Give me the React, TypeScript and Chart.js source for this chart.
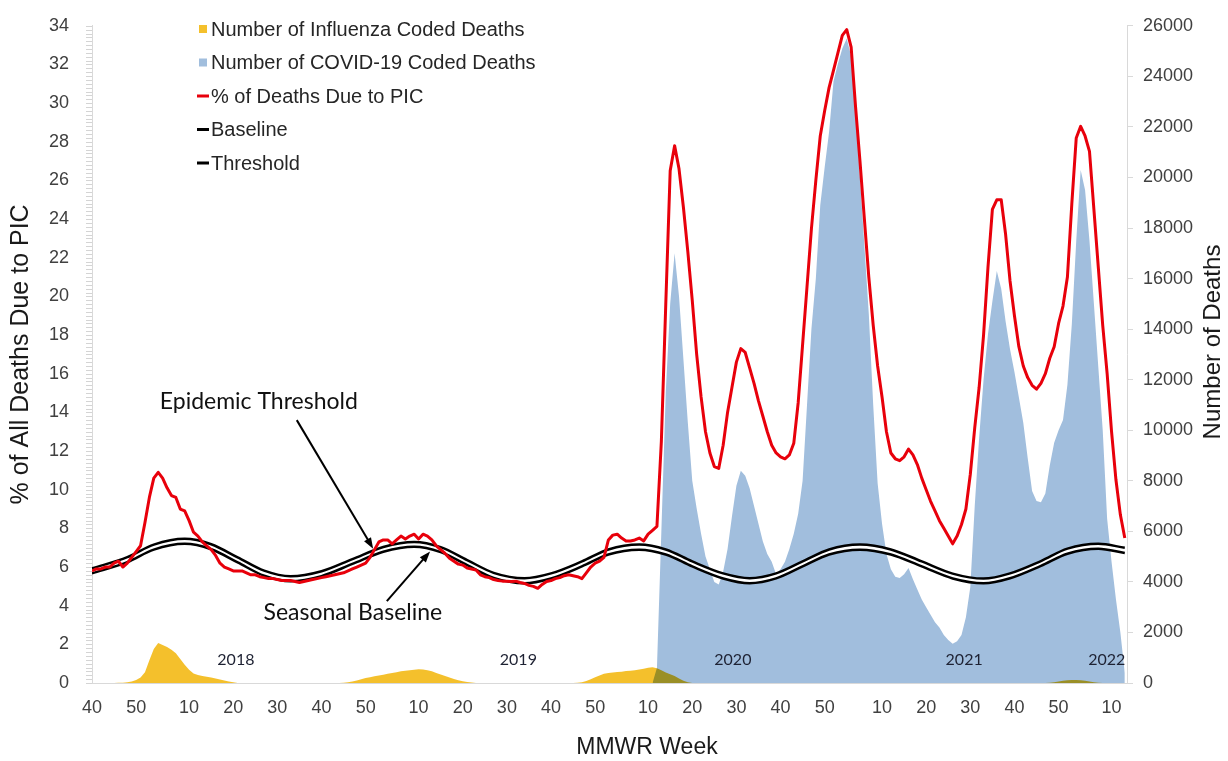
import React, { useEffect, useRef } from "react";
import { Chart, registerables } from "chart.js";

Chart.register(...registerables);

// MMWR week axis: seasons and their first / last weeks shown
const seasonYears = [2017, 2018, 2019, 2020, 2021, 2022];
const seasonFirstWeek = [40, 1, 1, 1, 1, 1];
const seasonLastWeek = [52, 52, 52, 53, 52, 13];
const tickEveryWeeks = 10;

// % of all deaths due to PIC (weekly)
const picPct2017 = [5.8, 5.9, 5.9, 6.0, 6.0, 6.2, 6.3, 6.0, 6.2, 6.5, 6.8, 7.1, 8.3];
const picPct2018 = [
  9.6, 10.6, 10.9, 10.6, 10.1, 9.7, 9.6, 9.0, 8.9, 8.4,
  7.8, 7.6, 7.3, 7.1, 6.9, 6.6, 6.2, 6.0, 5.9, 5.8,
  5.8, 5.8, 5.7, 5.6, 5.6, 5.5, 5.45, 5.4, 5.4, 5.35,
  5.3, 5.3, 5.3, 5.25, 5.2, 5.25, 5.3, 5.35, 5.4, 5.45,
  5.5, 5.55, 5.6, 5.65, 5.7, 5.8, 5.9, 6.0, 6.1, 6.2,
  6.5, 6.9,
];
const picPct2019 = [
  7.3, 7.4, 7.4, 7.2, 7.4, 7.6, 7.45, 7.6, 7.7, 7.45,
  7.7, 7.6, 7.4, 7.1, 6.9, 6.7, 6.45, 6.3, 6.15, 6.1,
  5.95, 5.9, 5.85, 5.6, 5.5, 5.45, 5.35, 5.3, 5.27, 5.27,
  5.25, 5.27, 5.2, 5.15, 5.05, 5.0, 4.9, 5.1, 5.25, 5.3,
  5.4, 5.45, 5.55, 5.6, 5.55, 5.5, 5.4, 5.7, 6.0, 6.2,
  6.3, 6.5,
];
const picPct2020 = [
  7.4, 7.65, 7.7, 7.5, 7.35, 7.35, 7.4, 7.5, 7.35, 7.7,
  7.9, 8.1, 12.5, 19.6, 26.5, 27.8, 26.6, 24.6, 22.3, 19.8,
  17.0, 14.8, 13.0, 11.9, 11.2, 11.1, 12.3, 14.0, 15.3, 16.6,
  17.3, 17.1, 16.3, 15.5, 14.6, 13.8, 13.0, 12.3, 11.9, 11.7,
  11.6, 11.8, 12.4, 14.5, 17.5, 20.5, 23.5, 26.0, 28.3, 29.6,
  30.8, 31.7, 32.6,
];
const picPct2021 = [
  33.5, 33.8, 32.9, 29.8, 27.0, 24.0, 21.0, 18.5, 16.4, 14.8,
  13.0, 11.9, 11.6, 11.5, 11.7, 12.1, 11.8, 11.3, 10.6, 10.0,
  9.4, 8.9, 8.4, 8.0, 7.6, 7.2, 7.6, 8.2, 9.0, 10.8,
  13.2, 15.3, 18.0, 21.5, 24.5, 25.0, 25.0, 23.2, 20.8, 19.0,
  17.4, 16.4, 15.8, 15.4, 15.2, 15.5, 16.0, 16.8, 17.4, 18.6,
  19.5, 21.0,
];
const picPct2022 = [24.8, 28.2, 28.8, 28.3, 27.5, 24.5, 21.5, 18.5, 16.0, 13.0, 10.5, 8.7, 7.5];

// Number of influenza coded deaths (weekly)
const fluDeaths2017 = [0, 0, 0, 0, 0, 0, 5, 10, 30, 60, 120, 220, 430];
const fluDeaths2018 = [
  900, 1350, 1580, 1500, 1420, 1320, 1180, 950, 720, 520,
  380, 320, 280, 250, 220, 180, 140, 100, 60, 25,
  0, 0, 0, 0, 0, 0, 0, 0, 0, 0,
  0, 0, 0, 0, 0, 0, 0, 0, 0, 0,
  0, 0, 0, 0, 10, 30, 60, 100, 150, 200,
  230, 270,
];
const fluDeaths2019 = [
  300, 330, 370, 400, 430, 460, 480, 500, 520, 540,
  530, 500, 460, 400, 340, 280, 220, 160, 110, 70,
  40, 20, 0, 0, 0, 0, 0, 0, 0, 0,
  0, 0, 0, 0, 0, 0, 0, 0, 0, 0,
  0, 0, 0, 0, 0, 10, 30, 80, 150, 230,
  300, 370,
];
const fluDeaths2020 = [
  400, 420, 440, 450, 470, 480, 500, 530, 560, 600,
  620, 580, 500, 420, 350, 280, 180, 90, 30, 0,
  0, 0, 0, 0, 0, 0, 0, 0, 0, 0,
  0, 0, 0, 0, 0, 0, 0, 0, 0, 0,
  0, 0, 0, 0, 0, 0, 0, 0, 0, 0,
  0, 0, 0,
];
const fluDeaths2021 = [
  0, 0, 0, 0, 0, 0, 0, 0, 0, 0,
  0, 0, 0, 0, 0, 0, 0, 0, 0, 0,
  0, 0, 0, 0, 0, 0, 0, 0, 0, 0,
  0, 0, 0, 0, 0, 0, 0, 0, 0, 0,
  0, 0, 0, 0, 0, 0, 0, 10, 30, 60,
  90, 110,
];
const fluDeaths2022 = [120, 120, 110, 90, 60, 30, 10, 0, 0, 0, 0, 0, 0];

// Number of COVID-19 coded deaths (weekly), series starts 2020 week 11
const covidStartYear = 2020;
const covidStartWeek = 11;
const covidDeaths2020 = [
  0, 600, 6000, 11500, 15000, 17000, 15300, 12800, 10300, 8000,
  6900, 5900, 5000, 4500, 4000, 3900, 4400, 5300, 6600, 7800,
  8400, 8200, 7700, 7000, 6300, 5600, 5100, 4800, 4300, 4500,
  4800, 5300, 5900, 6700, 8000, 11000, 14000, 16000, 18900, 20400,
  21800, 23800, 24500,
];
const covidDeaths2021 = [
  25100, 25500, 24800, 22800, 20000, 17300, 14600, 11000, 7900, 6300,
  5100, 4500, 4200, 4150, 4300, 4550, 4100, 3700, 3300, 3000,
  2700, 2400, 2200, 1900, 1700, 1550, 1650, 1900, 2600, 3800,
  7000, 9700, 12000, 13800, 15100, 16300, 15600, 14300, 13200, 12300,
  11300, 10300, 8900, 7600, 7200, 7150, 7500, 8600, 9500, 10000,
  10400, 11800,
];
const covidDeaths2022 = [14200, 17500, 20300, 19500, 17500, 15000, 12500, 10000, 6500, 4800, 3300, 2000, 400];

// Seasonal baseline and epidemic threshold (read at these week positions)
const bandWeekIndex = [
  0, 8, 14, 21, 27, 33, 39, 45, 52, 59,
  66, 73, 79, 85, 91, 98, 104, 111, 117, 124,
  130, 136, 143, 149, 155, 161, 167, 174, 181, 188,
  195, 202, 208, 215, 221, 228, 234,
];
const baselinePct = [
  5.67, 6.25, 6.9, 7.2, 6.92, 6.24, 5.55, 5.27, 5.53, 6.16,
  6.79, 7.05, 6.77, 6.1, 5.44, 5.16, 5.41, 6.03, 6.65, 6.9,
  6.65, 6.03, 5.41, 5.16, 5.41, 6.03, 6.65, 6.9, 6.65, 6.03,
  5.41, 5.16, 5.42, 6.06, 6.69, 6.95, 6.72,
];
const thresholdPct = [
  5.93, 6.51, 7.16, 7.46, 7.18, 6.5, 5.81, 5.52, 5.78, 6.41,
  7.04, 7.3, 7.03, 6.36, 5.7, 5.42, 5.67, 6.29, 6.91, 7.16,
  6.91, 6.29, 5.67, 5.42, 5.67, 6.29, 6.91, 7.16, 6.91, 6.29,
  5.66, 5.4, 5.67, 6.31, 6.95, 7.2, 7.0,
];

const yearLabels = ["2018", "2019", "2020", "2021", "2022"];
const annotationTexts = ["Epidemic Threshold", "Seasonal Baseline"];

const SANS = '"Liberation Sans", Arial, sans-serif';
const HUMAN = 'Lato, "Open Sans", sans-serif';

export default function App() {
  const ref = useRef<HTMLCanvasElement>(null);

  useEffect(() => {
    const canvas = ref.current;
    if (!canvas) return;

    const weekNums: number[] = [];
    const seasonStartIdx: number[] = [];
    seasonYears.forEach((_, k) => {
      seasonStartIdx.push(weekNums.length);
      for (let w = seasonFirstWeek[k]; w <= seasonLastWeek[k]; w++) weekNums.push(w);
    });
    const idxOf = (year: number, week: number) =>
      seasonStartIdx[seasonYears.indexOf(year)] + week - seasonFirstWeek[seasonYears.indexOf(year)];
    const tickIdx = weekNums.map((w, i) => (w % tickEveryWeeks === 0 ? i : -1)).filter((i) => i >= 0);

    const pic = [...picPct2017, ...picPct2018, ...picPct2019, ...picPct2020, ...picPct2021, ...picPct2022];
    const flu = [...fluDeaths2017, ...fluDeaths2018, ...fluDeaths2019, ...fluDeaths2020, ...fluDeaths2021, ...fluDeaths2022];
    const covid = [...covidDeaths2020, ...covidDeaths2021, ...covidDeaths2022];
    const covidStart = idxOf(covidStartYear, covidStartWeek);

    const picPts = pic.map((v, i) => ({ x: i, y: v }));
    const fluPts = flu.map((v, i) => ({ x: i, y: v }));
    const covidPts = covid.map((v, k) => ({ x: covidStart + k, y: v }));
    const basePts = bandWeekIndex.map((x, k) => ({ x, y: baselinePct[k] }));
    const thrPts = bandWeekIndex.map((x, k) => ({ x, y: thresholdPct[k] }));
    const lastIdx = weekNums.length - 1;

    const drawArrow = (ctx: CanvasRenderingContext2D, x1: number, y1: number, x2: number, y2: number) => {
      const ang = Math.atan2(y2 - y1, x2 - x1);
      const head = 11;
      ctx.save();
      ctx.strokeStyle = "#000";
      ctx.fillStyle = "#000";
      ctx.lineWidth = 2;
      ctx.beginPath();
      ctx.moveTo(x1, y1);
      ctx.lineTo(x2 - Math.cos(ang) * head * 0.8, y2 - Math.sin(ang) * head * 0.8);
      ctx.stroke();
      ctx.beginPath();
      ctx.moveTo(x2, y2);
      ctx.lineTo(x2 - head * Math.cos(ang) + 4 * Math.sin(ang), y2 - head * Math.sin(ang) - 4 * Math.cos(ang));
      ctx.lineTo(x2 - head * Math.cos(ang) - 4 * Math.sin(ang), y2 - head * Math.sin(ang) + 4 * Math.cos(ang));
      ctx.closePath();
      ctx.fill();
      ctx.restore();
    };

    const decor = {
      id: "decor",
      beforeDraw(chart: any) {
        const { ctx, width, height } = chart;
        ctx.save();
        ctx.fillStyle = "#ffffff";
        ctx.fillRect(0, 0, width, height);
        ctx.restore();
      },
      afterDatasetDraw(chart: any, args: any) {
        // influenza area is blended onto the COVID area
        if (args.index === 1) chart.ctx.globalCompositeOperation = "multiply";
        if (args.index === 0) chart.ctx.globalCompositeOperation = "source-over";
      },
      afterDraw(chart: any) {
        const { ctx, chartArea, scales } = chart;
        const xs = scales.x;
        const ys = scales.y;
        // minor ruler ticks on the left axis
        ctx.save();
        ctx.strokeStyle = "#d4d4d4";
        ctx.lineWidth = 1;
        for (let v = 0; v <= 34.001; v += 0.2) {
          const py = Math.round(ys.getPixelForValue(v)) + 0.5;
          ctx.beginPath();
          ctx.moveTo(chartArea.left - 6, py);
          ctx.lineTo(chartArea.left, py);
          ctx.stroke();
        }
        ctx.restore();

        // legend (vertical, inside plot)
        ctx.save();
        ctx.font = `20px ${SANS}`;
        ctx.textBaseline = "middle";
        ctx.textAlign = "left";
        chart.data.datasets.forEach((ds: any, k: number) => {
          const cy = 29 + k * 33.5;
          const mx = 203;
          if (ds.fill === "origin") {
            ctx.fillStyle = ds.backgroundColor;
            ctx.fillRect(mx - 4, cy - 4, 8, 8);
          } else {
            ctx.fillStyle = ds.borderColor;
            ctx.fillRect(mx - 6, cy - 1.5, 12, 3);
          }
          ctx.fillStyle = "#262626";
          ctx.fillText(ds.label, 211, cy + 1);
        });
        ctx.restore();

        // right axis title (reads bottom to top)
        ctx.save();
        ctx.font = `24px ${SANS}`;
        ctx.fillStyle = "#1a1a1a";
        ctx.textAlign = "center";
        ctx.textBaseline = "middle";
        ctx.translate(1213, 342);
        ctx.rotate(-Math.PI / 2);
        ctx.fillText("Number of Deaths", 0, 0);
        ctx.restore();

        // x axis title
        ctx.save();
        ctx.font = `23px ${SANS}`;
        ctx.fillStyle = "#1a1a1a";
        ctx.textAlign = "center";
        ctx.textBaseline = "middle";
        ctx.fillText("MMWR Week", 647, 748);
        ctx.restore();

        // year labels
        ctx.save();
        ctx.font = `16px ${HUMAN}`;
        ctx.fillStyle = "#1e2233";
        ctx.textAlign = "center";
        ctx.textBaseline = "middle";
        const yearPos = [idxOf(2018, 21) - 0.4, idxOf(2019, 33) - 0.4, idxOf(2020, 29) + 0.2, idxOf(2021, 28) + 0.6, idxOf(2022, 8) + 0.9];
        yearLabels.forEach((t, k) => {
          ctx.fillText(t, xs.getPixelForValue(yearPos[k]), ys.getPixelForValue(1.18));
        });
        ctx.restore();

        // annotations
        ctx.save();
        ctx.font = `23px ${HUMAN}`;
        ctx.fillStyle = "#111";
        ctx.textAlign = "center";
        ctx.textBaseline = "middle";
        ctx.fillText(annotationTexts[0], xs.getPixelForValue(37.8), ys.getPixelForValue(14.57));
        ctx.fillText(annotationTexts[1], xs.getPixelForValue(59.1), ys.getPixelForValue(3.63));
        ctx.restore();
        drawArrow(ctx, xs.getPixelForValue(46.4), ys.getPixelForValue(13.6), xs.getPixelForValue(63.7), ys.getPixelForValue(6.95));
        drawArrow(ctx, xs.getPixelForValue(66.8), ys.getPixelForValue(4.24), xs.getPixelForValue(76.6), ys.getPixelForValue(6.8));
      },
    };

    const chart = new Chart(canvas, {
      type: "line",
      data: {
        datasets: [
          {
            label: "Number of Influenza Coded Deaths",
            data: fluPts,
            yAxisID: "y2",
            fill: "origin",
            backgroundColor: "#f4c02c",
            borderWidth: 0,
            pointRadius: 0,
            order: 4,
          },
          {
            label: "Number of COVID-19 Coded Deaths",
            data: covidPts,
            yAxisID: "y2",
            fill: "origin",
            backgroundColor: "#a1bedd",
            borderWidth: 0,
            pointRadius: 0,
            order: 5,
          },
          {
            label: "% of Deaths Due to PIC",
            data: picPts,
            yAxisID: "y",
            fill: false,
            borderColor: "#e8000b",
            borderWidth: 3,
            pointRadius: 0,
            tension: 0,
            borderJoinStyle: "round",
            order: 1,
          },
          {
            label: "Baseline",
            data: basePts,
            yAxisID: "y",
            fill: false,
            borderColor: "#000000",
            borderWidth: 2.5,
            pointRadius: 0,
            cubicInterpolationMode: "monotone",
            order: 2,
          },
          {
            label: "Threshold",
            data: thrPts,
            yAxisID: "y",
            fill: { target: 3 },
            backgroundColor: "#ffffff",
            borderColor: "#000000",
            borderWidth: 2.5,
            pointRadius: 0,
            cubicInterpolationMode: "monotone",
            order: 3,
          },
        ] as any,
      },
      options: {
        responsive: false,
        devicePixelRatio: 1,
        animation: false,
        layout: { padding: { top: 19, left: 0, right: 0, bottom: 0 } },
        plugins: {
          legend: { display: false },
          tooltip: { enabled: false },
        },
        scales: {
          x: {
            type: "linear",
            min: 0,
            max: lastIdx + 0.5,
            afterBuildTicks: (s: any) => {
              s.ticks = tickIdx.map((v) => ({ value: v }));
            },
            afterFit: (s: any) => {
              s.height = 78;
            },
            grid: { display: false },
            border: { display: true, color: "#d9d9d9", width: 1 },
            ticks: {
              autoSkip: false,
              maxRotation: 0,
              padding: 6,
              color: "#404040",
              font: { family: SANS, size: 18 },
              callback: (v: any) => String(weekNums[Math.round(v)] ?? ""),
            },
            title: { display: false },
          },
          y: {
            type: "linear",
            position: "left",
            min: 0,
            max: 34,
            afterFit: (s: any) => {
              s.width = 92;
            },
            grid: { display: false },
            border: { display: true, color: "#d9d9d9", width: 1 },
            ticks: {
              stepSize: 2,
              padding: 15,
              color: "#404040",
              font: { family: SANS, size: 18 },
            },
            title: {
              display: true,
              text: "% of All Deaths Due to PIC",
              color: "#1a1a1a",
              font: { family: SANS, size: 25 },
              padding: { top: 6, bottom: 0 },
            },
          },
          y2: {
            type: "linear",
            position: "right",
            min: 0,
            max: 26000,
            afterFit: (s: any) => {
              s.width = 101;
            },
            grid: { display: true, drawOnChartArea: false, drawTicks: true, tickLength: 6, color: "#d9d9d9" },
            border: { display: true, color: "#d9d9d9", width: 1 },
            ticks: {
              stepSize: 2000,
              padding: 10,
              color: "#404040",
              font: { family: SANS, size: 18 },
              callback: (v: any) => String(v),
            },
          },
        },
      } as any,
      plugins: [decor],
    });

    return () => chart.destroy();
  }, []);

  return (
    <div style={{ position: "absolute", left: 0, top: 0, width: 1228, height: 761 }}>
      <canvas ref={ref} width={1228} height={761} style={{ display: "block", width: 1228, height: 761 }} />
    </div>
  );
}
